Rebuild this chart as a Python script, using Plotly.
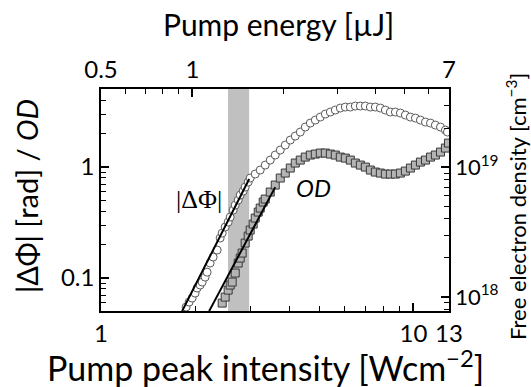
import math
import plotly.graph_objects as go

# ---- data ----
# |ΔΦ| (open circles): pump peak intensity, |ΔΦ| [rad]
phi_x = [1.873, 1.915, 1.957, 2.001, 2.031, 2.077, 2.108, 2.154, 2.186, 2.235,
         2.285, 2.354, 2.407, 2.443, 2.497, 2.553, 2.591, 2.649, 2.689, 2.749,
         2.790, 2.852, 2.894, 2.959, 3.003, 3.116, 3.233, 3.355, 3.481, 3.612,
         3.748, 3.889, 4.035, 4.187, 4.344, 4.508, 4.677, 4.853, 5.035, 5.225,
         5.421, 5.623, 5.835, 6.054, 6.282, 6.518, 6.763, 7.017, 7.281, 7.554,
         7.838, 8.133, 8.438, 8.756, 9.085, 9.426, 9.781, 10.15, 10.53, 10.93,
         11.34, 11.76, 12.21, 12.66, 12.85]
phi_y = [0.0548, 0.0608, 0.0660, 0.0732, 0.0813, 0.0865, 0.0920, 0.102, 0.113, 0.1365,
         0.1546, 0.1788, 0.2293, 0.2543, 0.2881, 0.3195, 0.3543, 0.4100, 0.4545, 0.5043,
         0.5594, 0.6077, 0.6604, 0.7325, 0.7961, 0.8650, 0.9397, 1.042, 1.156, 1.283,
         1.423, 1.578, 1.751, 1.902, 2.067, 2.293, 2.491, 2.651, 2.822, 3.003,
         3.130, 3.263, 3.401, 3.472, 3.472, 3.545, 3.545, 3.545, 3.472, 3.472,
         3.401, 3.263, 3.130, 3.130, 3.066, 2.941, 2.822, 2.763, 2.651, 2.543,
         2.491, 2.389, 2.293, 2.154, 2.067]

# OD (grey squares)
od_x = [2.443, 2.497, 2.553, 2.591, 2.630, 2.689, 2.749, 2.790, 2.830, 2.894,
        2.959, 3.003, 3.070, 3.116, 3.186, 3.233, 3.305, 3.355, 3.481, 3.612,
        3.748, 3.889, 4.035, 4.187, 4.344, 4.508, 4.677, 4.853, 5.035, 5.225,
        5.421, 5.623, 5.835, 6.054, 6.282, 6.518, 6.763, 7.017, 7.281, 7.554,
        7.838, 8.133, 8.438, 8.756, 9.085, 9.426, 9.781, 10.15, 10.53, 10.93,
        11.34, 11.76, 12.21, 12.66, 12.95]
od_y = [0.0595, 0.0674, 0.0779, 0.0865, 0.0920, 0.111, 0.1365, 0.1514, 0.168, 0.2067,
        0.2390, 0.2707, 0.3065, 0.3471, 0.3933, 0.4272, 0.4839, 0.5148, 0.5955, 0.6884,
        0.7961, 0.8830, 0.9795, 1.087, 1.156, 1.230, 1.283, 1.310, 1.337, 1.337,
        1.310, 1.283, 1.230, 1.205, 1.156, 1.087, 1.042, 1.0, 0.9397, 0.9016,
        0.8830, 0.8650, 0.8650, 0.8650, 0.8830, 0.920, 0.9795, 1.042, 1.109, 1.156,
        1.230, 1.283, 1.365, 1.483, 1.645]

# power-law fit lines
fit_phi_x = [1.818, 2.981]
fit_phi_y = [0.0504, 0.780]
fit_od_x = [2.219, 3.612]
fit_od_y = [0.0504, 0.66]

# shaded band (intensity range)
band_x = [2.55, 2.98]

# axes
x_range = [1, 13]
x_ticks = [1, 10, 13]
x_minor = [2, 3, 4, 5, 6, 7, 8, 9]
top_range = [0.5, 7]
top_ticks = [0.5, 1, 7]
top_minor = [0.6, 0.7, 0.8, 0.9, 2, 3, 4, 5, 6]
y_range = [0.0505, 5.05]
y_ticks = [0.1, 1]
y_minor = [0.06, 0.07, 0.08, 0.09, 0.2, 0.3, 0.4, 0.5, 0.6, 0.7, 0.8, 0.9, 2, 3, 4, 5]
ne_range = [7.8e17, 4.0e19]
ne_ticks = [1e18, 1e19]
ne_ticklabels = ["10<sup>18</sup>", "10<sup>19</sup>"]
ne_minor = [8e17, 9e17, 2e18, 3e18, 4e18, 5e18, 6e18, 7e18, 8e18, 9e18, 2e19, 3e19, 4e19]

FONT = "Lato"

fig = go.Figure()
fig.add_vrect(x0=band_x[0], x1=band_x[1], fillcolor="#c0c0c0", line_width=0,
              layer="below", opacity=1)

fig.add_trace(go.Scatter(x=phi_x, y=phi_y, mode="markers",
                         marker=dict(symbol="circle", size=8, color="white",
                                     line=dict(color="#5a5a5a", width=1))))
fig.add_trace(go.Scatter(x=od_x, y=od_y, mode="markers",
                         marker=dict(symbol="square", size=8, color="#b4b4b4",
                                     line=dict(color="#383838", width=1))))
fig.add_trace(go.Scatter(x=fit_phi_x, y=fit_phi_y, mode="lines",
                         line=dict(color="black", width=2)))
fig.add_trace(go.Scatter(x=fit_od_x, y=fit_od_y, mode="lines",
                         line=dict(color="black", width=2)))
# carrier trace for the secondary axes (invisible)
fig.add_trace(go.Scatter(x=[1], y=[1e19], xaxis="x2", yaxis="y2", mode="markers",
                         marker=dict(opacity=0), hoverinfo="skip"))

tickfont = dict(family=FONT, size=24, color="black")
common = dict(type="log", showgrid=False, zeroline=False, showline=True,
              linecolor="black", linewidth=1.5, ticks="inside", ticklen=8,
              tickwidth=1.5, tickcolor="black", tickfont=tickfont, tickmode="array")

def minor(vals):
    return dict(tickmode="array", tickvals=vals, ticks="inside", ticklen=5,
                tickwidth=1.2, tickcolor="black", showgrid=False)

fig.update_layout(
    width=531, height=387, showlegend=False,
    paper_bgcolor="white", plot_bgcolor="white",
    margin=dict(l=101, r=82, t=89, b=76),
    xaxis=dict(**common, range=[math.log10(v) for v in x_range],
               tickvals=x_ticks, ticktext=[str(v) for v in x_ticks],
               minor=minor(x_minor)),
    xaxis2=dict(**common, range=[math.log10(v) for v in top_range], overlaying="x",
                side="top", anchor="y", tickvals=top_ticks,
                ticktext=["0.5", "1", "7"], minor=minor(top_minor)),
    yaxis=dict(**common, range=[math.log10(v) for v in y_range],
               tickvals=y_ticks, ticktext=["0.1", "1"], minor=minor(y_minor)),
    yaxis2=dict(**common, range=[math.log10(v) for v in ne_range], overlaying="y",
                side="right", anchor="x", tickvals=ne_ticks, ticktext=ne_ticklabels,
                minor=minor(ne_minor)),
)
fig.update_layout(yaxis2_tickfont=dict(family=FONT, size=22, color="black"))

def ann(text, x, y, size, angle=0, family=FONT):
    fig.add_annotation(text=text, x=x, y=y, xref="paper", yref="paper",
                       showarrow=False, textangle=angle,
                       font=dict(family=family, size=size, color="black"),
                       xanchor="center", yanchor="middle")

def px2paper(px, py):
    return (px - 101) / 348, (311 - py) / 222

ann("Pump peak intensity [Wcm<sup>−2</sup>]", *px2paper(265, 366), 34)
ann("Pump energy [µJ]", *px2paper(278, 24), 30)
ann("|ΔΦ| [rad] / <i>OD</i>", *px2paper(26, 196), 29, angle=-90)
ann("Free electron density [cm<sup>−3</sup>]", *px2paper(516, 207), 22, angle=-90)
ann("|ΔΦ|", *px2paper(199, 199), 26, family="Liberation Serif")
ann("<i>OD</i>", *px2paper(313, 187), 24)

fig.write_html("out.html")
